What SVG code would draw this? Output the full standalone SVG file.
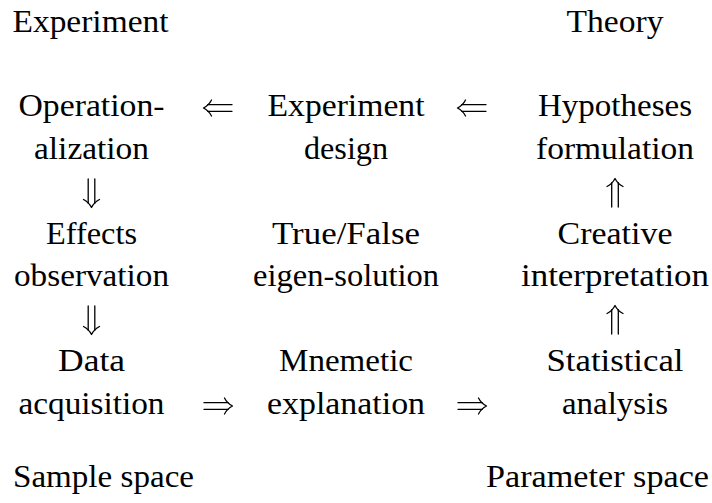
<svg xmlns="http://www.w3.org/2000/svg" xmlns:xlink="http://www.w3.org/1999/xlink" width="712" height="503" viewBox="0 0 712 503">
  <style>
    .t { font-family: "Liberation Serif", Tinos, "Nimbus Roman", "Nimbus Roman No9 L", FreeSerif, "Noto Serif", "DejaVu Serif", "Bitstream Vera Serif", Times, "Times New Roman", Georgia, serif; font-size: 32px; fill: #000; text-anchor: middle; }
    .l { text-anchor: start; }
    .r { text-anchor: end; }
    .arr { fill: none; stroke: #000; stroke-width: 1.3; stroke-linecap: round; stroke-linejoin: round; }
  </style>
  <defs>
    <g id="dblarrow" class="arr">
      <path d="M -6.5 -8 C -8.5 -4 -11.5 -1.5 -14.5 0 C -11.5 1.5 -8.5 4 -6.5 8"/>
      <path d="M -10.3 -3.3 H 14 M -10.3 3.3 H 14"/>
    </g>
  </defs>
  <rect width="712" height="503" fill="#fff"/>

  <g id="label-experiment"><text class="t" x="90.5" y="32" textLength="156" lengthAdjust="spacingAndGlyphs">Experiment</text></g>
  <g id="label-theory"><text class="t" x="615" y="32" textLength="97" lengthAdjust="spacingAndGlyphs">Theory</text></g>
  <g id="label-sample"><text class="t l" x="13" y="487" textLength="181" lengthAdjust="spacingAndGlyphs">Sample space</text></g>
  <g id="label-parameter"><text class="t r" x="709" y="487" textLength="223" lengthAdjust="spacingAndGlyphs">Parameter space</text></g>

  <g id="n-operationalization">
    <text class="t" x="91.5" y="116" textLength="146" lengthAdjust="spacingAndGlyphs">Operation-</text>
    <text class="t" x="91.5" y="158.5" textLength="115" lengthAdjust="spacingAndGlyphs">alization</text>
  </g>
  <g id="n-experiment-design">
    <text class="t" x="346" y="116" textLength="157" lengthAdjust="spacingAndGlyphs">Experiment</text>
    <text class="t" x="346" y="158.5" textLength="84" lengthAdjust="spacingAndGlyphs">design</text>
  </g>
  <g id="n-hypotheses">
    <text class="t" x="615" y="116" textLength="154" lengthAdjust="spacingAndGlyphs">Hypotheses</text>
    <text class="t" x="615" y="158.5" textLength="158" lengthAdjust="spacingAndGlyphs">formulation</text>
  </g>

  <g id="n-effects">
    <text class="t" x="91.5" y="243.5" textLength="91" lengthAdjust="spacingAndGlyphs">Effects</text>
    <text class="t" x="91.5" y="286" textLength="155" lengthAdjust="spacingAndGlyphs">observation</text>
  </g>
  <g id="n-eigen">
    <text class="t" x="346" y="243.5" textLength="148" lengthAdjust="spacingAndGlyphs">True/False</text>
    <text class="t" x="346" y="286" textLength="186" lengthAdjust="spacingAndGlyphs">eigen-solution</text>
  </g>
  <g id="n-creative">
    <text class="t" x="615" y="243.5" textLength="115" lengthAdjust="spacingAndGlyphs">Creative</text>
    <text class="t" x="615" y="286" textLength="188" lengthAdjust="spacingAndGlyphs">interpretation</text>
  </g>

  <g id="n-data">
    <text class="t" x="91.5" y="371" textLength="67" lengthAdjust="spacingAndGlyphs">Data</text>
    <text class="t" x="91.5" y="413.5" textLength="146" lengthAdjust="spacingAndGlyphs">acquisition</text>
  </g>
  <g id="n-mnemetic">
    <text class="t" x="346" y="371" textLength="134" lengthAdjust="spacingAndGlyphs">Mnemetic</text>
    <text class="t" x="346" y="413.5" textLength="158" lengthAdjust="spacingAndGlyphs">explanation</text>
  </g>
  <g id="n-statistical">
    <text class="t" x="615" y="371" textLength="137" lengthAdjust="spacingAndGlyphs">Statistical</text>
    <text class="t" x="615" y="413.5" textLength="106" lengthAdjust="spacingAndGlyphs">analysis</text>
  </g>

  <g id="connectors">
    <use xlink:href="#dblarrow" transform="translate(218,108)"/>
    <use xlink:href="#dblarrow" transform="translate(472,108)"/>
    <use xlink:href="#dblarrow" transform="translate(218,406) rotate(180)"/>
    <use xlink:href="#dblarrow" transform="translate(472,406) rotate(180)"/>
    <use xlink:href="#dblarrow" transform="translate(91.5,193) rotate(-90)"/>
    <use xlink:href="#dblarrow" transform="translate(91.5,320) rotate(-90)"/>
    <use xlink:href="#dblarrow" transform="translate(615,193) rotate(90)"/>
    <use xlink:href="#dblarrow" transform="translate(615,320) rotate(90)"/>
  </g>
</svg>
